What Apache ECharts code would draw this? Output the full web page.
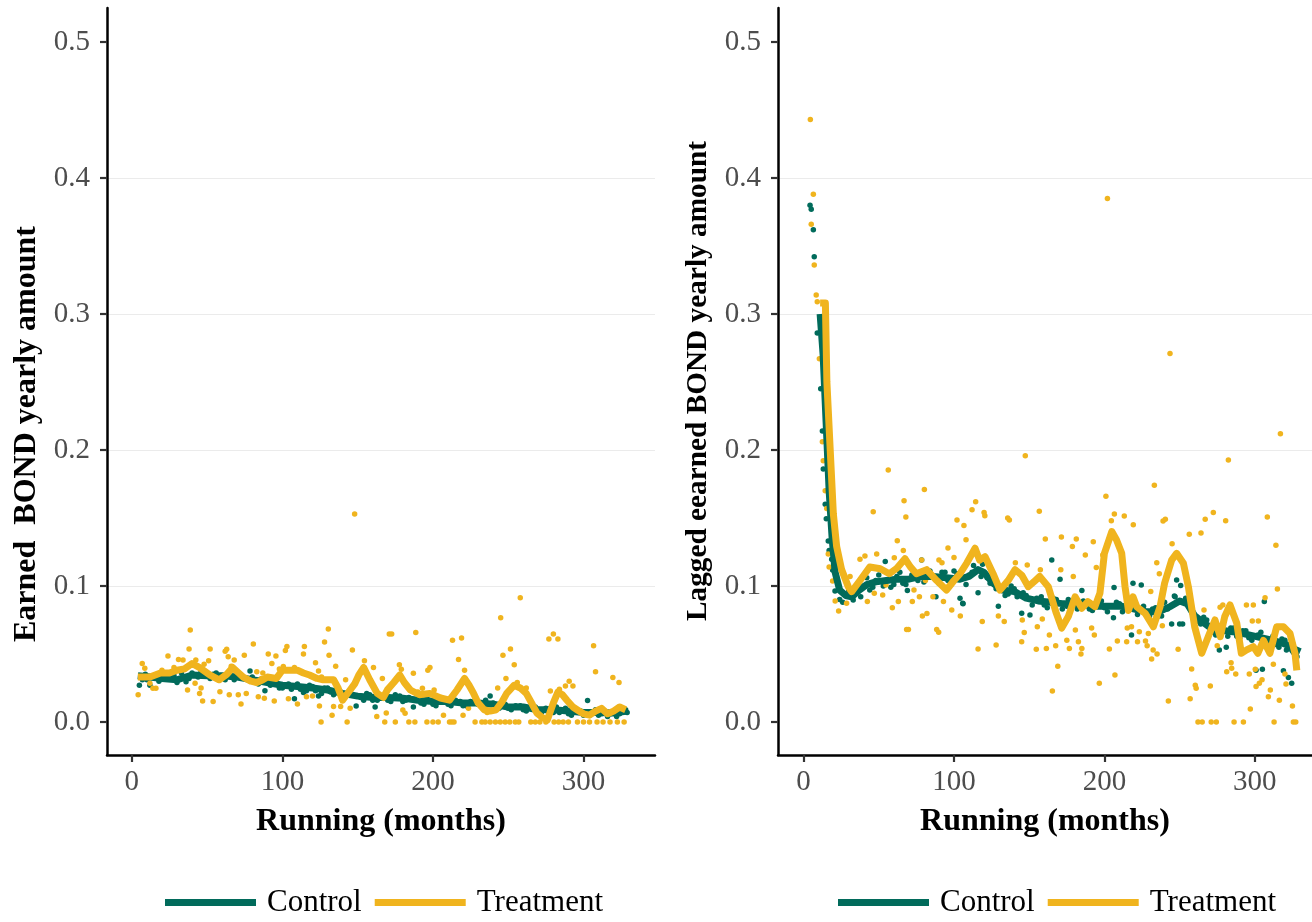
<!DOCTYPE html>
<html>
<head>
<meta charset="utf-8">
<script src="https://cdn.jsdelivr.net/npm/echarts@6/dist/echarts.min.js"></script>
<style>
  html, body { margin: 0; padding: 0; background: #fff; }
  #chart { width: 1312px; height: 922px; }
</style>
</head>
<body>
<div id="chart"></div>
<script>
// 颜色
var teal = '#016B5B';
var gold = '#F0B41E';
var serif = "'Liberation Serif', 'Times New Roman', serif";

// 刻度
var xTicks = [0, 100, 200, 300];
var yTicks = [0, 0.1, 0.2, 0.3, 0.4, 0.5];
var seriesNames = ['Control', 'Treatment'];

// 左图：Earned BOND yearly amount
var ctrlLineL = [[4,0.034],[12,0.033],[20,0.032],[30,0.031],[40,0.0345],[50,0.034],[60,0.034],[70,0.033],[80,0.031],[90,0.029],[100,0.027],[110,0.026],[120,0.025],[130,0.0235],[140,0.021],[150,0.019],[160,0.018],[170,0.018],[180,0.0175],[190,0.016],[200,0.015],[210,0.015],[220,0.014],[230,0.014],[240,0.013],[250,0.011],[260,0.011],[270,0.009],[280,0.009],[290,0.008],[300,0.007],[310,0.007],[320,0.0065],[329,0.008]];
var trtLineL = [[4,0.033],[12,0.033],[19,0.036],[25,0.036],[30,0.038],[35,0.039],[40,0.043],[45,0.040],[52,0.0345],[58,0.031],[63,0.035],[67,0.040],[71,0.036],[74,0.033],[79,0.030],[83,0.029],[87,0.031],[90,0.033],[96,0.032],[100,0.038],[105,0.038],[110,0.038],[114,0.036],[118,0.0345],[123,0.032],[127,0.031],[134,0.031],[137,0.025],[140,0.016],[144,0.022],[148,0.028],[151,0.035],[154,0.040],[158,0.031],[163,0.021],[167,0.018],[170,0.024],[174,0.029],[178,0.0345],[181,0.029],[185,0.0235],[191,0.020],[198,0.021],[205,0.0176],[211,0.016],[216,0.0235],[221,0.032],[224,0.027],[227,0.021],[230,0.014],[234,0.009],[238,0.008],[242,0.009],[246,0.015],[249,0.021],[254,0.027],[258,0.025],[262,0.021],[266,0.013],[269,0.0066],[273,0.003],[276,0.0015],[280,0.014],[283,0.022],[286,0.020],[289,0.016],[293,0.011],[296,0.0088],[300,0.006],[304,0.005],[308,0.008],[312,0.010],[316,0.006],[320,0.008],[324,0.011],[328,0.009]];
var ctrlPtsL = [[5,0.027],[7,0.031],[9,0.035],[10,0.031],[12,0.027],[15,0.033],[18,0.030],[20,0.035],[22,0.034],[26,0.032],[28,0.034],[30,0.029],[33,0.036],[36,0.0296],[38,0.032],[40,0.036],[44,0.033],[46,0.037],[48,0.035],[52,0.032],[54,0.035],[56,0.036],[60,0.033],[62,0.031],[64,0.035],[68,0.031],[70,0.036],[72,0.034],[76,0.032],[78.5,0.0375],[80,0.033],[82,0.029],[84,0.028],[86,0.031],[88.4,0.023],[92,0.027],[94,0.031],[96,0.029],[98,0.025],[100,0.025],[104,0.028],[106,0.024],[108,0.017],[110,0.028],[112,0.024],[114,0.0216],[116,0.023],[118,0.027],[120,0.026],[122,0.023],[124,0.019],[126,0.021],[128,0.025],[130,0.025],[132,0.022],[134,0.020],[136,0.024],[138,0.023],[140,0.020],[142,0.019],[144,0.022],[146,0.020],[149,0.0118],[152,0.018],[154,0.016],[156,0.021],[158,0.020],[160,0.016],[161.6,0.011],[163,0.016],[165,0.019],[168,0.019],[170,0.016],[172,0.015],[175,0.020],[178,0.019],[180,0.015],[182,0.016],[184,0.018],[187,0.011],[190,0.017],[192,0.014],[194,0.013],[196,0.017],[198,0.016],[200,0.013],[202,0.012],[205,0.016],[208,0.016],[210,0.013],[212,0.012],[215,0.016],[218,0.015],[220,0.012],[222,0.012],[225,0.015],[228,0.015],[230,0.013],[232,0.012],[235,0.016],[238,0.019],[240,0.014],[242,0.011],[244,0.010],[246,0.013],[248,0.013],[250,0.010],[252,0.009],[255,0.012],[258,0.012],[260,0.009],[262,0.008],[265,0.011],[268,0.011],[270,0.008],[272,0.007],[275,0.010],[278,0.010],[280,0.007],[282,0.011],[284,0.007],[286,0.009],[288,0.010],[290,0.006],[292,0.005],[295,0.008],[298,0.008],[300,0.005],[302.7,0.0157],[304,0.005],[306,0.007],[308,0.009],[310,0.005],[312,0.006],[314,0.008],[316,0.004],[318,0.006],[320,0.008],[322,0.004],[324,0.006],[326,0.009],[328,0.009],[329,0.007]];
var trtPtsL = [[4.2,0.020],[6.9,0.043],[8.6,0.0395],[12,0.0285],[14,0.0248],[16,0.0248],[20,0.038],[24,0.0485],[28,0.040],[31,0.046],[34,0.0456],[37,0.0235],[38,0.0537],[38.8,0.0676],[42,0.0285],[42.5,0.0456],[44,0.041],[45,0.021],[46,0.025],[47,0.0154],[48,0.0424],[51,0.045],[52,0.0537],[54,0.015],[56,0.033],[58.5,0.0223],[62,0.052],[63,0.0535],[64,0.048],[64.7,0.020],[66,0.041],[68,0.0456],[70.7,0.020],[72.5,0.0132],[74.7,0.049],[76,0.021],[80.7,0.0574],[83,0.037],[84,0.0186],[86,0.032],[87,0.036],[88,0.0174],[90.6,0.050],[93,0.043],[94.6,0.0154],[95.7,0.0485],[98,0.039],[100.6,0.0407],[102,0.0525],[103,0.0554],[104,0.017],[108,0.040],[110,0.0132],[114,0.050],[114.6,0.0554],[116,0.0186],[120,0.0191],[122,0.0436],[124,0.0375],[124.6,0.0118],[125.7,0],[126,0.033],[128,0.0588],[130.5,0.0684],[131,0.049],[133,0.005],[134,0.0113],[135.4,0.041],[138.7,0.0113],[142,0.031],[143,0],[145,0.010],[146.5,0.053],[148,0.153],[152,0.037],[154.5,0.045],[160.5,0.040],[162.7,0.004],[166.4,0.032],[168,0],[169,0.0066],[171,0.0647],[172.6,0.0647],[175,0],[176,0.032],[177.7,0.042],[179,0.0387],[180,0.0088],[181.5,0.0064],[184,0],[187,0.0358],[188,0],[188.6,0.0657],[190,0.022],[193,0.0248],[196,0],[196.6,0.038],[198,0.040],[200,0],[200.8,0.0235],[203,0.016],[203.5,0],[207,0.005],[211,0],[212.5,0],[213,0.060],[214,0],[217,0.046],[219,0.0618],[220,0.005],[221,0.038],[222,0.030],[223.6,0.010],[228,0],[232.5,0],[234.7,0],[236,0.007],[238,0],[241.5,0],[243,0.025],[244.7,0],[245,0.0767],[246.5,0.049],[248,0],[248.5,0.032],[251,0],[251.5,0.0537],[254,0.042],[254.7,0],[256,0.029],[257,0],[258,0.0914],[262,0.025],[265,0],[268,0],[271,0],[275,0],[277,0.061],[278,0.0228],[280,0.0647],[280.5,0],[283,0.061],[283.5,0],[284,0.024],[286.5,0],[288,0.0265],[290,0],[290.5,0.030],[293,0.0265],[296,0],[300,0],[304,0],[306.7,0.056],[308,0.037],[309,0],[313,0],[317.6,0],[319.5,0.0326],[322.5,0],[323.6,0.029],[327,0]];

// 右图：Lagged eearned BOND yearly amount
var ctrlLineR = [[11,0.300],[13,0.270],[15,0.220],[17,0.170],[19,0.135],[21,0.110],[24,0.097],[28,0.093],[32,0.092],[37,0.097],[42,0.101],[48,0.103],[55,0.104],[62,0.105],[70,0.105],[78,0.107],[86,0.107],[95,0.106],[104,0.105],[110,0.107],[116,0.112],[120,0.110],[126,0.102],[132,0.097],[140,0.096],[148,0.091],[156,0.089],[164,0.088],[172,0.087],[180,0.087],[188,0.086],[196,0.085],[204,0.085],[212,0.085],[220,0.083],[228,0.081],[236,0.081],[244,0.085],[250,0.089],[255,0.087],[260,0.078],[266,0.073],[272,0.068],[280,0.067],[288,0.066],[296,0.064],[304,0.062],[312,0.060],[318,0.058],[323,0.056],[327,0.050],[329,0.055]];
var trtLineR = [[11,0.308],[14.5,0.308],[15.5,0.250],[17.6,0.2025],[19.8,0.153],[22,0.129],[25.3,0.112],[29.7,0.0995],[32,0.0958],[37.5,0.104],[44,0.114],[51,0.1127],[57,0.109],[62,0.113],[67.4,0.120],[71,0.114],[75,0.109],[81.8,0.112],[88.5,0.104],[95,0.097],[100,0.104],[104,0.109],[108.4,0.1167],[114,0.1277],[117,0.119],[120.6,0.1216],[126,0.109],[130.6,0.097],[136,0.104],[140.6,0.112],[145,0.108],[149.4,0.0995],[154,0.104],[157,0.107],[162.7,0.0995],[168,0.080],[171.6,0.069],[176,0.0775],[180.5,0.092],[185,0.0836],[189,0.0885],[193.7,0.0848],[197,0.0946],[200,0.124],[204.9,0.140],[208,0.134],[211.5,0.124],[213.7,0.0995],[216,0.082],[219,0.092],[221.5,0.0848],[227,0.080],[232.5,0.070],[237,0.0848],[240,0.102],[244.7,0.119],[248,0.124],[252.5,0.1167],[255.8,0.0995],[260,0.070],[264.7,0.0505],[269,0.0627],[273.5,0.075],[277,0.0627],[280,0.0775],[283.5,0.086],[288,0.0726],[291,0.0505],[294.6,0.053],[299,0.0554],[302,0.0505],[305.7,0.060],[310,0.0505],[314.5,0.070],[319,0.070],[323.4,0.065],[326.7,0.0505],[327.9,0.038]];
var ctrlPtsR = [[4.3,0.380],[5.1,0.377],[6.5,0.362],[7.1,0.342],[9.1,0.286],[11.4,0.245],[12.5,0.214],[13.1,0.186],[14.4,0.160],[15.1,0.1495],[16.4,0.133],[17,0.126],[18.7,0.1196],[19.3,0.1118],[20.9,0.0963],[24,0.090],[26,0.088],[28,0.094],[30,0.097],[33,0.0897],[36,0.096],[38,0.092],[40,0.100],[42,0.106],[44,0.097],[46,0.099],[48,0.104],[50,0.108],[53,0.100],[54.3,0.118],[57,0.109],[58,0.099],[60,0.101],[62,0.107],[64,0.110],[66,0.102],[68,0.101],[69,0.0966],[72,0.108],[74,0.110],[76,0.104],[78.5,0.119],[80,0.103],[82,0.110],[84,0.111],[88,0.092],[90,0.102],[92,0.110],[94,0.110],[96,0.104],[98,0.101],[100,0.111],[102,0.109],[104,0.091],[105.8,0.0873],[106,0.087],[108,0.101],[110,0.108],[112,0.110],[113,0.115],[116,0.095],[118,0.107],[119,0.116],[122,0.106],[124,0.102],[128,0.098],[129.5,0.085],[132,0.099],[134,0.093],[136,0.094],[138,0.100],[140,0.098],[142,0.092],[145,0.080],[146,0.095],[148,0.093],[150.5,0.0787],[152,0.086],[155,0.091],[158,0.092],[160,0.086],[162,0.084],[165,0.119],[166,0.091],[168,0.090],[170.5,0.105],[172,0.083],[175,0.085],[176,0.090],[180,0.090],[182,0.083],[185,0.0966],[186,0.089],[190,0.083],[192,0.082],[195,0.088],[198,0.089],[200,0.084],[202,0.081],[206,0.0767],[206.4,0.0988],[208,0.088],[210,0.087],[212,0.081],[215,0.083],[216,0.087],[218,0.064],[219,0.102],[222,0.079],[224.5,0.1007],[226,0.085],[228,0.079],[230,0.078],[232,0.083],[234,0.084],[236,0.078],[238,0.078],[240,0.088],[242,0.083],[244.7,0.072],[246.5,0.0926],[247,0.092],[248,0.1044],[250,0.072],[250.7,0.1003],[252,0.072],[254,0.091],[256,0.085],[258,0.082],[260,0.077],[262,0.074],[264,0.072],[266,0.077],[268,0.075],[270,0.071],[272,0.066],[274,0.064],[276.4,0.053],[278,0.070],[281,0.055],[282,0.063],[284,0.069],[286,0.069],[288,0.063],[290,0.062],[292,0.067],[294,0.067],[296,0.062],[298,0.060],[300.8,0.038],[302,0.064],[304,0.066],[305,0.0387],[306.3,0.0885],[308,0.058],[310,0.060],[312,0.063],[314,0.057],[316,0.055],[318,0.061],[319,0.0377],[320,0.060],[321,0.053],[322.3,0.0326],[324.5,0.0284],[325,0.058],[327,0.052],[328,0.048]];
var trtPtsR = [[4.5,0.443],[5.1,0.366],[6.5,0.388],[7.1,0.336],[8.4,0.314],[9.1,0.309],[10.5,0.267],[12.5,0.206],[13.1,0.192],[14.4,0.170],[15.4,0.157],[16.4,0.1235],[17,0.114],[19.3,0.1037],[21,0.089],[23.3,0.0816],[28.6,0.0873],[30.9,0.107],[37.5,0.1196],[40.8,0.122],[42.4,0.0885],[46.3,0.1546],[47,0.0946],[48.6,0.1235],[52.6,0.0934],[54.8,0.1007],[56.3,0.1853],[59,0.084],[60.3,0.1208],[62.3,0.1333],[63,0.0885],[66.3,0.126],[66.8,0.1627],[68,0.1507],[68.5,0.068],[69.7,0.068],[72.3,0.0885],[73.4,0.097],[77,0.092],[78.5,0.119],[79,0.078],[80.3,0.171],[81,0.104],[82,0.0797],[86,0.092],[88.5,0.068],[89.8,0.066],[90,0.119],[92,0.117],[93,0.0885],[96,0.128],[98.5,0.0824],[100,0.121],[102,0.1485],[104.2,0.078],[106.6,0.1444],[108,0.134],[112,0.156],[114.4,0.162],[116,0.0537],[118.8,0.0738],[120,0.154],[120.5,0.1517],[128,0.0566],[129.5,0.078],[133.4,0.0738],[135.7,0.150],[136.8,0.1485],[140.8,0.117],[145,0.059],[145.4,0.075],[146.7,0.0657],[147.4,0.1958],[148.7,0.1154],[154.7,0.0535],[155.4,0.070],[156.7,0.155],[157.4,0.112],[158.7,0.0757],[160.7,0.1346],[161.4,0.054],[163.4,0.064],[165.4,0.0228],[167.6,0.056],[169,0.041],[171,0.112],[171.4,0.136],[175,0.060],[176.7,0.054],[178.7,0.129],[179.3,0.107],[180.7,0.0676],[181.3,0.1346],[182.7,0.059],[184.4,0.050],[185,0.054],[187.3,0.1228],[191.5,0.069],[192.6,0.1326],[193.3,0.064],[194.6,0.1135],[196.6,0.0284],[198.9,0.1228],[201,0.166],[202,0.385],[203.3,0.0537],[204.6,0.148],[206.6,0.153],[207,0.0346],[208.6,0.0596],[213.2,0.1515],[214.8,0.059],[215.2,0.069],[218,0.070],[219.2,0.145],[222,0.059],[223.2,0.0664],[227.3,0.0596],[228.4,0.056],[229.2,0.065],[230.8,0.096],[231.4,0.0463],[232.4,0.053],[233.2,0.174],[234.8,0.117],[235,0.050],[236.5,0.109],[238.5,0.0708],[239,0.1478],[240.5,0.149],[242.5,0.0154],[243.6,0.271],[245,0.131],[249,0.0535],[256.4,0.138],[257,0.017],[258,0.039],[260.4,0.027],[261,0.0248],[262.2,0],[264.2,0.139],[265,0],[266.2,0.0824],[267,0.149],[270.4,0.0265],[271,0],[272.4,0.154],[274.4,0],[275,0.056],[276.9,0.0843],[278.7,0.086],[280.6,0.148],[281.3,0.037],[282.4,0.1926],[284.2,0.0436],[284.6,0.0394],[286.2,0],[287.3,0.0353],[292.4,0],[294.4,0.086],[296.3,0.0353],[297,0.0096],[298.3,0.0743],[299,0.086],[300.3,0.0387],[300.8,0.026],[302.3,0.0743],[303,0.0284],[304.8,0.031],[306.8,0.0914],[308.3,0.1507],[309,0.0186],[310.3,0.0235],[312.3,0.0424],[312.8,0],[314,0.130],[315,0.0978],[316.3,0.016],[317,0.212],[320,0.0353],[320.7,0.028],[325,0.0118],[325.6,0],[327.2,0]];

var myChart = echarts.init(document.getElementById('chart'), null, {renderer: 'canvas'});

function makeX(idx, min, max) {
    return {
        type: 'value', gridIndex: idx, min: min, max: max,
        name: 'Running (months)', nameLocation: 'middle', nameGap: 51,
        nameTextStyle: {fontFamily: serif, fontSize: 32, fontWeight: 'bold', color: '#000'},
        axisLine: {onZero: false, lineStyle: {color: '#000', width: 2.5}},
        axisTick: {show: true, length: 7, customValues: xTicks, lineStyle: {color: '#333', width: 2.2}},
        axisLabel: {margin: 13, customValues: xTicks, fontFamily: serif, fontSize: 29, color: '#4D4D4D'},
        splitLine: {show: false}
    };
}

function makeY(idx) {
    return {
        type: 'value', gridIndex: idx, min: -0.0243, max: 0.525,
        axisLine: {show: true, onZero: false, lineStyle: {color: '#000', width: 2.5}},
        axisTick: {show: true, length: 7, customValues: yTicks, lineStyle: {color: '#333', width: 2.2}},
        axisLabel: {margin: 17, customValues: yTicks, fontFamily: serif, fontSize: 29, color: '#4D4D4D',
            formatter: function (v) { return v.toFixed(1); }},
        splitLine: {show: true, showMinLine: false, showMaxLine: false, lineStyle: {color: '#EBEBEB', width: 1.2}}
    };
}

function pts(name, data, color, idx) {
    return {
        name: name, type: 'scatter', xAxisIndex: idx, yAxisIndex: idx,
        data: data, symbolSize: 5.5, clip: false,
        itemStyle: {color: color, opacity: 1}, silent: true
    };
}

function line(name, data, color, idx) {
    return {
        name: name, type: 'line', xAxisIndex: idx, yAxisIndex: idx,
        data: data, showSymbol: false, clip: false,
        itemStyle: {color: color},
        lineStyle: {color: color, width: 7, join: 'round', cap: 'butt'}
    };
}

function legendAt(left) {
    return {
        data: seriesNames, left: left, top: 887, padding: 0,
        icon: 'rect', itemWidth: 91, itemHeight: 7, itemGap: 13,
        textStyle: {fontFamily: serif, fontSize: 31, color: '#000', padding: [0, 0, 0, 6]},
        selectedMode: false
    };
}

function yTitle(text, x, y, size) {
    return {
        type: 'text', x: x, y: y, rotation: Math.PI / 2,
        style: {text: text, font: 'bold ' + size + 'px ' + serif, fill: '#000',
                textAlign: 'center', textVerticalAlign: 'middle', align: 'center', verticalAlign: 'middle'}
    };
}

var option = {
    animation: false,
    backgroundColor: '#fff',
    grid: [
        {left: 107, top: 8, width: 548, height: 747},
        {left: 778, top: 8, width: 534, height: 747}
    ],
    xAxis: [makeX(0, -16.5, 347.5), makeX(1, -17, 338)],
    yAxis: [makeY(0), makeY(1)],
    legend: [legendAt(165), legendAt(838)],
    graphic: [
        yTitle('Earned  BOND yearly amount', 27, 434, 32),
        yTitle('Lagged eearned BOND yearly amount', 698, 381, 29.3)
    ],
    series: [
        pts('Control', ctrlPtsL, teal, 0),
        pts('Treatment', trtPtsL, gold, 0),
        line('Control', ctrlLineL, teal, 0),
        line('Treatment', trtLineL, gold, 0),
        pts('Control', ctrlPtsR, teal, 1),
        pts('Treatment', trtPtsR, gold, 1),
        line('Control', ctrlLineR, teal, 1),
        line('Treatment', trtLineR, gold, 1)
    ]
};

myChart.setOption(option);
</script>
</body>
</html>
